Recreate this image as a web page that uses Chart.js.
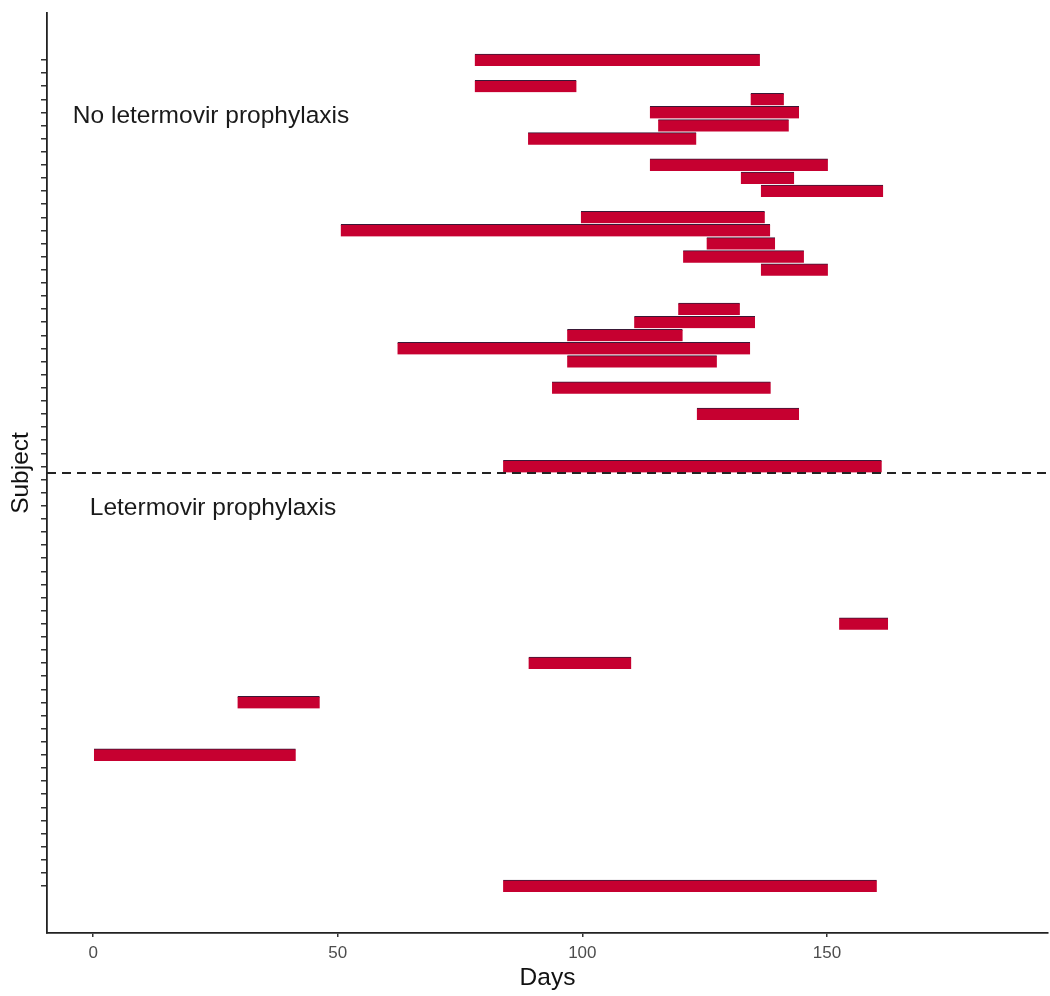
<!DOCTYPE html>
<html><head><meta charset="utf-8">
<script src="https://cdn.jsdelivr.net/npm/chart.js@4.4.1/dist/chart.umd.min.js"></script>
<style>html,body{margin:0;padding:0;background:#fff;} #wrap{width:1050px;height:996px;}</style>
</head><body><div id="wrap"><canvas id="c" width="1050" height="996"></canvas></div>
<script>
// Subject index (1 = top row) and episode start/end in days
const subjects  = [1, 3, 4, 5, 6, 7, 9, 10, 11, 13, 14, 15, 16, 17, 20, 21, 22, 23, 24, 26, 28, 32, 44, 47, 50, 54, 64];
const startDays = [78.0, 78.0, 134.4, 113.8, 115.5, 88.9, 113.8, 132.4, 136.5, 99.7, 50.6, 125.4, 120.6, 136.5, 119.6, 110.6, 96.9, 62.2, 96.9, 93.8, 123.4, 83.8, 152.5, 89.0, 29.5, 0.0, 83.8];
const endDays   = [136.3, 98.8, 141.2, 144.3, 142.2, 123.3, 150.2, 143.3, 161.5, 137.3, 138.4, 139.4, 145.3, 150.2, 132.2, 135.3, 120.5, 134.3, 127.5, 138.5, 144.3, 161.2, 162.5, 110.0, 46.3, 41.4, 160.2];
const xTicks = [0, 50, 100, 150];
const subjectCount = 64;
const subjectTicks = Array.from({length: subjectCount}, (_, i) => i + 1);
const groupLabels = ['No letermovir prophylaxis', 'Letermovir prophylaxis'];
const groupBoundary = 32.5;

const FONT = 'Liberation Sans, Arial, Helvetica, sans-serif';

const annot = {
  id: 'annot',
  afterDatasetsDraw(chart) {
    const {ctx, chartArea, scales: {x, y}} = chart;
    ctx.save();
    const yb = y.getPixelForValue(groupBoundary);
    ctx.strokeStyle = '#222';
    ctx.lineWidth = 2;
    ctx.setLineDash([9, 6]);
    ctx.beginPath();
    ctx.moveTo(chartArea.left, yb);
    ctx.lineTo(chartArea.right, yb);
    ctx.stroke();
    ctx.setLineDash([]);
    ctx.fillStyle = '#1a1a1a';
    ctx.font = '24.5px ' + FONT;
    ctx.textBaseline = 'alphabetic';
    ctx.textAlign = 'left';
    ctx.fillText(groupLabels[0], x.getPixelForValue(-4.17), y.getPixelForValue(5.77));
    ctx.fillText(groupLabels[1], x.getPixelForValue(-0.7), y.getPixelForValue(35.72));
    ctx.restore();
  }
};

new Chart(document.getElementById('c').getContext('2d'), {
  type: 'bar',
  data: {
    datasets: [{
      data: subjects.map((s, i) => ({x: [startDays[i], endDays[i]], y: s})),
      backgroundColor: '#C60030',
      borderColor: '#3a1836',
      borderWidth: {top: 1, right: 0, bottom: 0, left: 0},
      borderSkipped: false,
      barThickness: 12
    }]
  },
  options: {
    indexAxis: 'y',
    responsive: false,
    animation: false,
    devicePixelRatio: 1,
    layout: {padding: {top: 13, right: 2, left: 0, bottom: 0}},
    plugins: {legend: {display: false}, tooltip: {enabled: false}},
    scales: {
      x: {
        type: 'linear', min: -9.45, max: 195.2,
        afterBuildTicks: s => { s.ticks = xTicks.map(v => ({value: v})); },
        ticks: {color: '#4d4d4d', font: {family: FONT, size: 17}, padding: 6, maxRotation: 0, autoSkip: false},
        grid: {display: true, drawOnChartArea: false, drawTicks: true, tickLength: 4, color: '#333', lineWidth: 1.5},
        border: {display: true, color: '#222', width: 1.8},
        title: {display: true, text: 'Days', color: '#111', font: {family: FONT, size: 24.5}, padding: {top: 0, bottom: 3}},
        afterFit: s => { s.height = 63; }
      },
      y: {
        type: 'linear', reverse: true, min: -2.585, max: 67.585, offset: false,
        afterBuildTicks: s => { s.ticks = subjectTicks.map(v => ({value: v})); },
        ticks: {callback: () => '', padding: 0, autoSkip: false},
        grid: {display: true, offset: false, drawOnChartArea: false, drawTicks: true, tickLength: 6, color: '#333', lineWidth: 1.5},
        border: {display: true, color: '#222', width: 1.8},
        title: {display: true, text: 'Subject', color: '#111', font: {family: FONT, size: 24.5}, padding: {top: 7, bottom: 0}},
        afterFit: s => { s.width = 47; }
      }
    }
  },
  plugins: [annot]
});
</script>
</body></html>
